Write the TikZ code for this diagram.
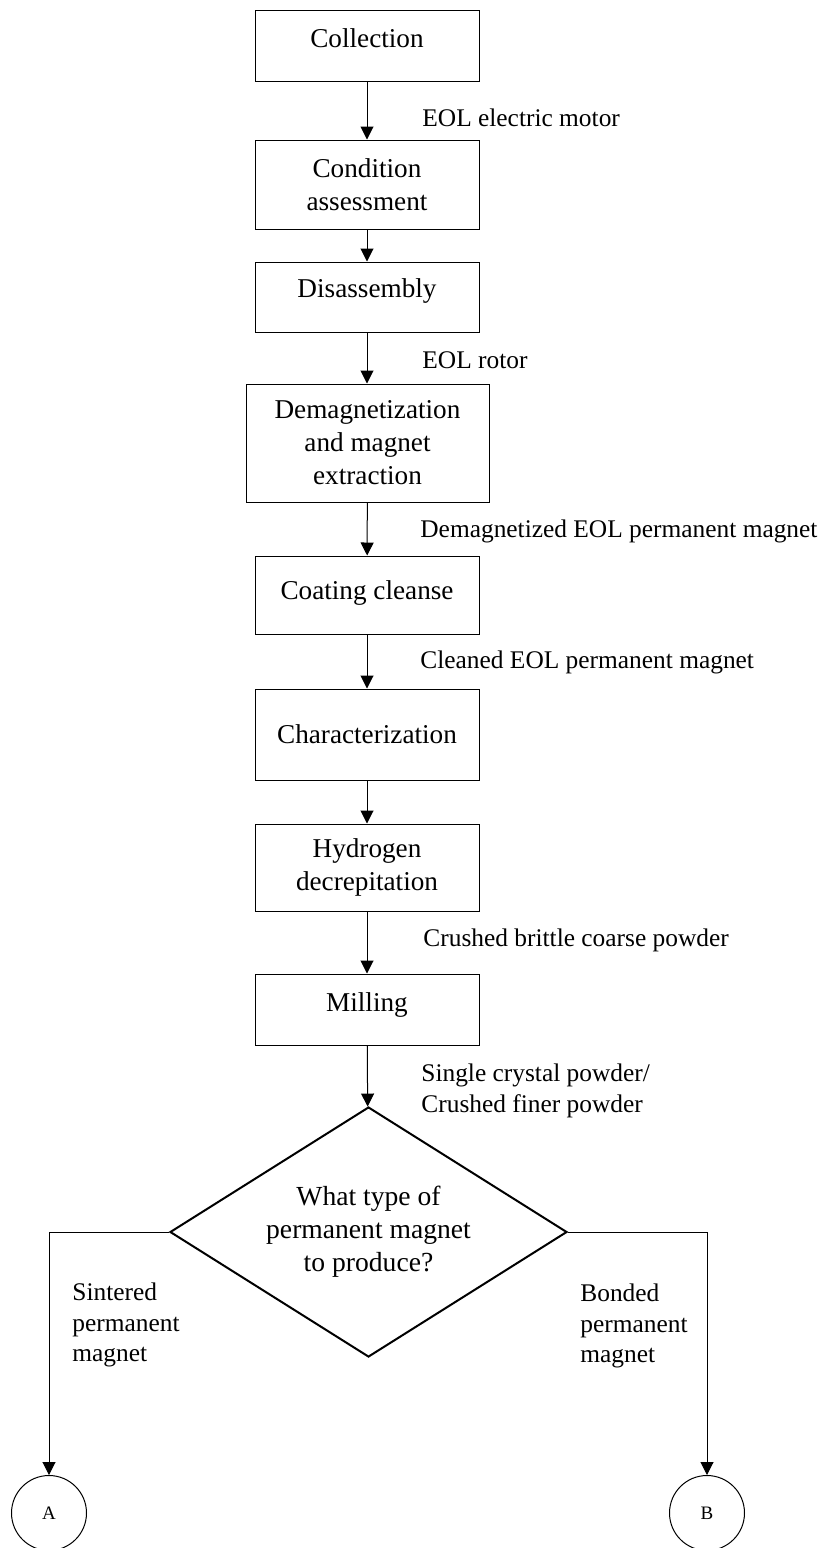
\documentclass[tikz,border=0pt]{standalone}
\usepackage{fontspec}
\setmainfont{Liberation Serif}
\usetikzlibrary{arrows.meta,shapes.geometric}

\tikzset{
  box/.style={draw, line width=0.5pt, rectangle, minimum width=112pt, inner sep=2pt,
    align=center, font=\fontsize{13.6}{16.5}\selectfont},
  decision/.style={draw, line width=1pt, diamond, aspect=1.6, inner sep=0pt,
    minimum width=198.5pt, minimum height=125pt, align=center,
    font=\fontsize{13.8}{16.5}\selectfont},
  flowlabel/.style={anchor=west, align=left, inner sep=0pt,
    font=\fontsize{12.7}{15.2}\selectfont},
  connector/.style={draw, line width=0.5pt, circle, minimum size=37.5pt, inner sep=0pt,
    font=\fontsize{9.5}{11}\selectfont},
  flow/.style={line width=0.5pt, -{Triangle[length=6.5pt,width=6.5pt]}}
}

\begin{document}
\begin{tikzpicture}[x=0.5pt,y=-0.5pt]
  \useasboundingbox (0,0) rectangle (822,1548);

  % process steps
  \node[box, minimum height=35.5pt, text depth=7.6pt] (collect) at (367,45.5) {Collection};
  \node[box, minimum height=44.5pt] (assess) at (367,184.5) {Condition\\assessment};
  \node[box, minimum height=35pt, text depth=9pt] (disasm) at (367,297) {Disassembly};
  \node[box, minimum width=121.5pt, minimum height=59pt] (demag) at (367.5,443)
    {Demagnetization\\and magnet\\extraction};
  \node[box, minimum height=39pt, text depth=5pt] (coat) at (367,595) {Coating cleanse};
  \node[box, minimum height=45.5pt] (charac) at (367,734.5) {Characterization};
  \node[box, minimum height=43.5pt] (hydro) at (367,867.5) {Hydrogen\\decrepitation};
  \node[box, minimum height=35.5pt, text depth=7pt] (mill) at (367,1009.5) {Milling};

  % decision
  \node[decision] (type) at (368.5,1232) {What type of\\permanent magnet\\to produce?};

  % off-page connectors
  \node[connector] (A) at (49,1513) {A};
  \node[connector] (B) at (707,1513) {B};

  % main flow
  \draw[flow] (collect) -- (assess);
  \draw[flow] (assess) -- (disasm);
  \draw[flow] (disasm) -- (disasm |- demag.north);
  \draw[flow] (demag) -- (coat);
  \draw[flow] (coat) -- (charac);
  \draw[flow] (charac) -- (hydro);
  \draw[flow] (hydro) -- (mill);
  \draw[flow] (mill) -- (type);

  % branches
  \draw[flow] (type.west) -| (A.north);
  \draw[flow] (type.east) -| (B.north);

  % stream labels
  \node[flowlabel] (l1) at (422,118) {EOL electric motor};
  \node[flowlabel] (l2) at (422,360) {EOL rotor};
  \node[flowlabel] (l3) at (420,531) {Demagnetized EOL permanent magnet};
  \node[flowlabel] (l4) at (420,662) {Cleaned EOL permanent magnet};
  \node[flowlabel] (l5) at (423,940) {Crushed brittle coarse powder};
  \node[flowlabel] (l6) at (421,1091) {Single crystal powder/\\Crushed finer powder};
  \node[flowlabel] (l7) at (72,1325) {Sintered\\permanent\\magnet};
  \node[flowlabel] (l8) at (580,1326) {Bonded\\permanent\\magnet};
\end{tikzpicture}
\end{document}
